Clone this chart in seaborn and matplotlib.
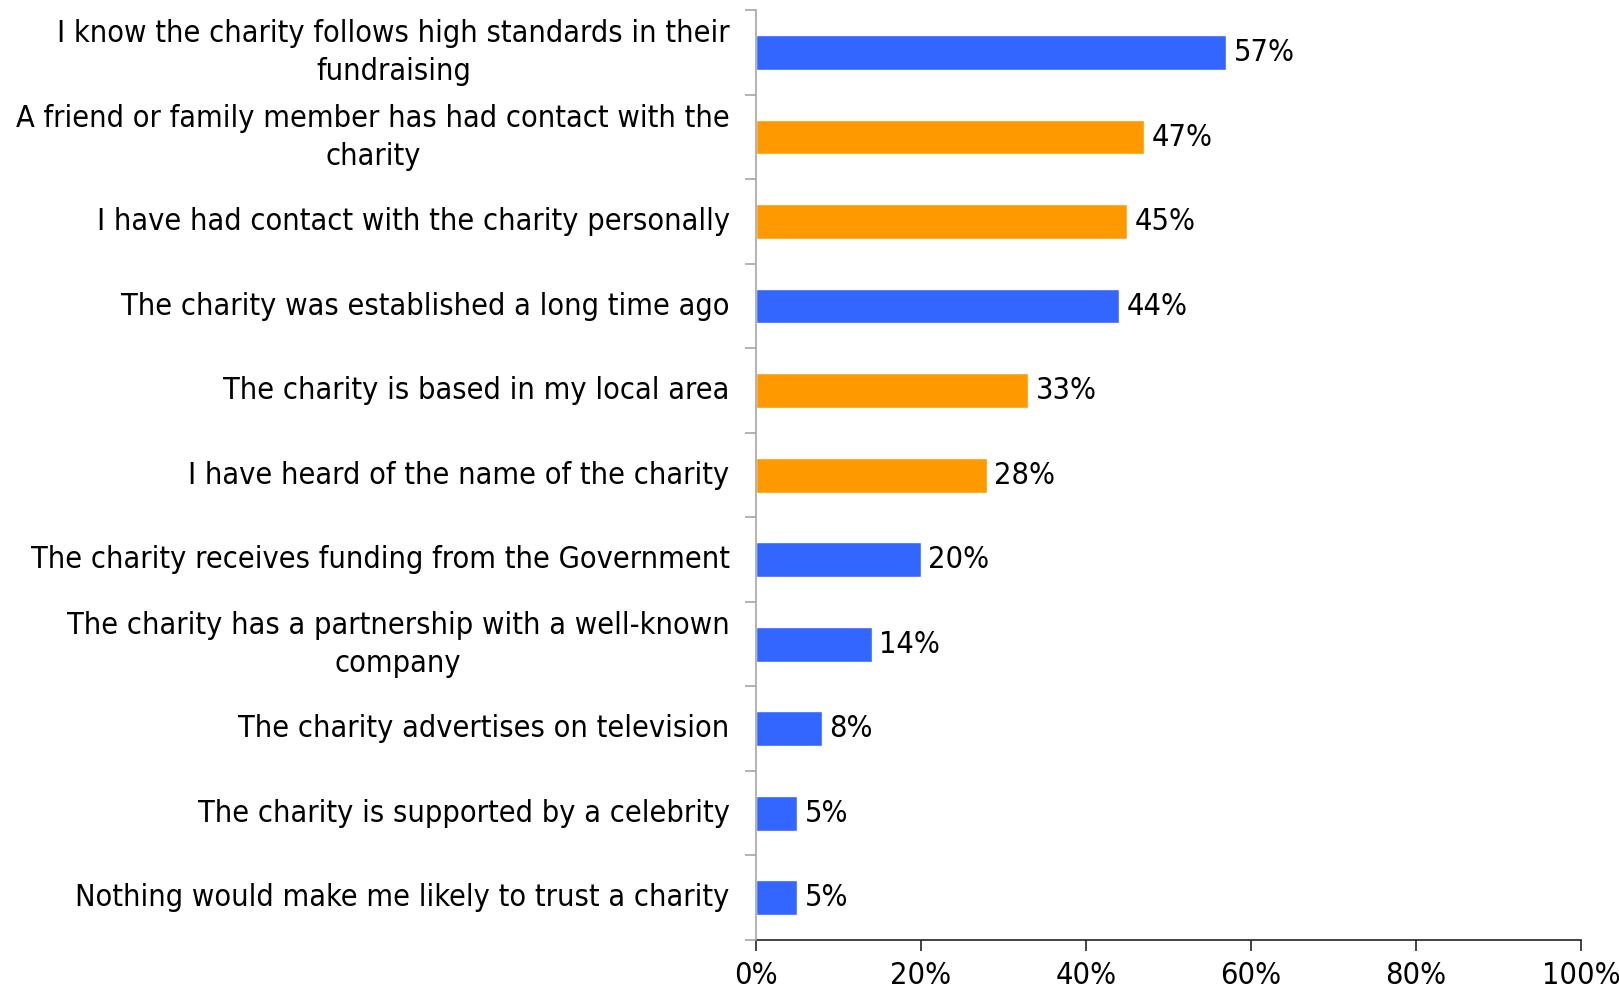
import matplotlib
matplotlib.use("Agg")
import matplotlib.pyplot as plt
import seaborn as sns
import pandas as pd
import numpy as np

categories = [
    "I know the charity follows high standards in their\nfundraising",
    "A friend or family member has had contact with the\ncharity",
    "I have had contact with the charity personally",
    "The charity was established a long time ago",
    "The charity is based in my local area",
    "I have heard of the name of the charity",
    "The charity receives funding from the Government",
    "The charity has a partnership with a well-known\ncompany",
    "The charity advertises on television",
    "The charity is supported by a celebrity",
    "Nothing would make me likely to trust a charity",
]
values = [57, 47, 45, 44, 33, 28, 20, 14, 8, 5, 5]
groups = ["blue", "orange", "orange", "blue", "orange", "orange",
          "blue", "blue", "blue", "blue", "blue"]
x_ticks = [0, 20, 40, 60, 80, 100]

palette = {"blue": "#3366FF", "orange": "#FF9900"}

df = pd.DataFrame({"category": categories, "value": values, "group": groups})

sns.set_theme(style="white")
plt.rcParams["font.family"] = ["DejaVu Sans"]
plt.rcParams["font.stretch"] = "condensed"
plt.rcParams["text.color"] = "black"
plt.rcParams["xtick.color"] = "black"
plt.rcParams["ytick.color"] = "black"

FS = 22

fig = plt.figure(figsize=(16.19, 9.91), dpi=100)
ax = fig.add_axes([0.467, 0.0515, 0.5095, 0.938])

sns.barplot(data=df, y="category", x="value", hue="group", palette=palette,
            dodge=False, legend=False, width=0.41, orient="h", ax=ax,
            saturation=1.0, order=categories)

n = len(categories)
ax.set_ylim(n - 0.5, -0.5)
ax.set_xlim(0, 100)

for i, v in enumerate(values):
    ax.text(v + 0.9, i, f"{v}%", va="center", ha="left", fontsize=FS,
            stretch="condensed", color="black")

ax.set_xticks(x_ticks)
ax.set_xticklabels([f"{t}%" for t in x_ticks], fontsize=FS)
ax.set_yticks(range(n))
ax.set_yticklabels(categories, fontsize=FS, ha="right", va="center",
                   multialignment="center", linespacing=1.38)
ax.set_yticks(np.arange(-0.5, n, 1.0), minor=True)

ax.tick_params(axis="y", which="major", length=0, pad=19, labelcolor="black")
ax.tick_params(axis="y", which="minor", length=8, width=1.2, color="#A6A6A6",
               direction="out", left=True)
ax.tick_params(axis="x", which="major", length=8, width=1.2, color="#222222",
               direction="out", bottom=True, pad=7, labelcolor="black")

ax.set_xlabel("")
ax.set_ylabel("")
for s in ["top", "right"]:
    ax.spines[s].set_visible(False)
ax.spines["left"].set_color("#A6A6A6")
ax.spines["left"].set_linewidth(1.2)
ax.spines["bottom"].set_color("#222222")
ax.spines["bottom"].set_linewidth(1.2)
ax.spines["left"].set_zorder(5)

fig.savefig("out.png", dpi=100)
